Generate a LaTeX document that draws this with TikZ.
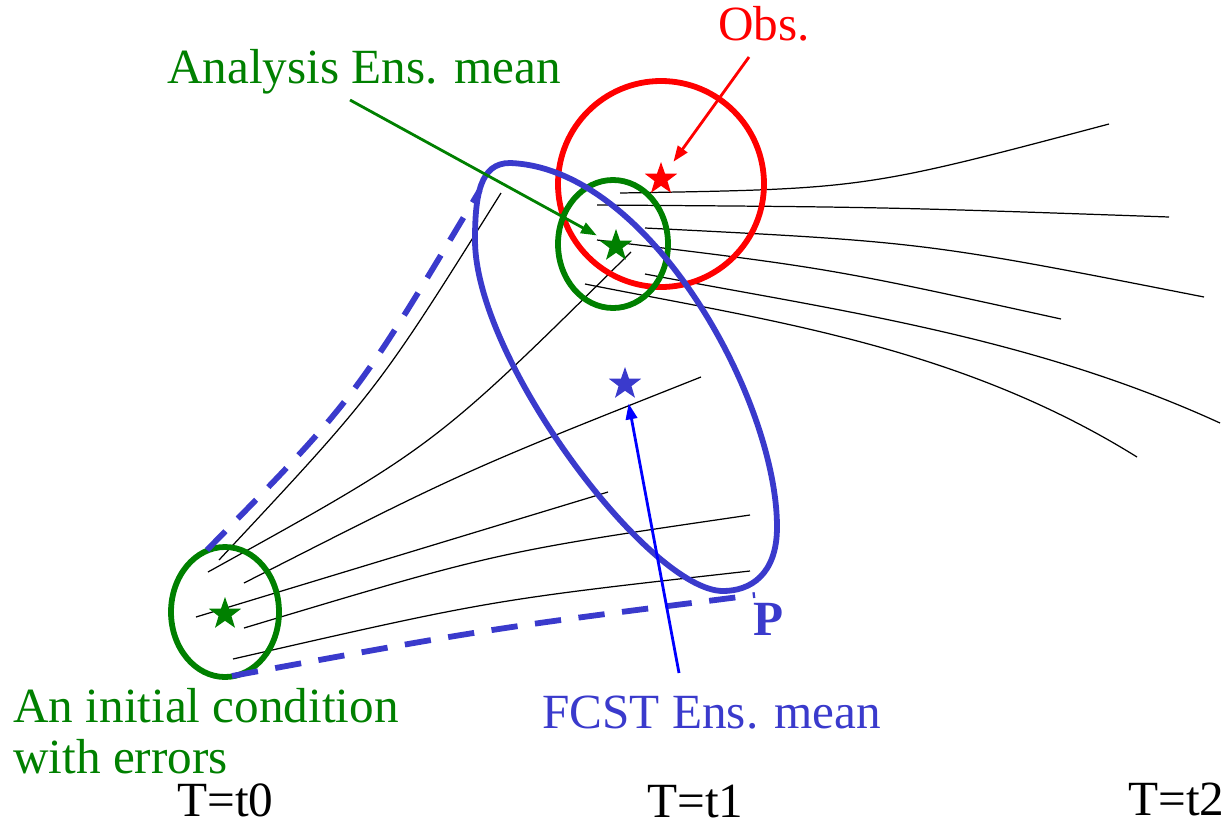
\documentclass[tikz,border=0pt]{standalone}
\usepackage{fontspec}
\setmainfont{Liberation Serif}
\usetikzlibrary{shapes.geometric,arrows.meta}
\definecolor{dgreen}{RGB}{0,128,0}
\definecolor{sblue}{RGB}{58,58,204}
\tikzset{
	traj/.style={line width=0.7pt, black},
	ring/.style={line width=3.3pt},
	spread/.style={sblue, line width=3.3pt, dash pattern=on 15pt off 10pt},
	mstar/.style={star, star points=5, star point ratio=2.5, fill, draw=none, minimum size=0.68cm, inner sep=0pt},
	lab/.style={font=\fontsize{28}{28.5}\selectfont, anchor=base west, inner sep=0pt},
	pointer/.style={->, line width=1.6pt}
}

\begin{document}
\begin{tikzpicture}[x=0.02cm, y=-0.02cm, >={Triangle[length=9pt,width=6.5pt]}]
			\useasboundingbox (0,0) rectangle (1230,829);
			% trajectories from the initial condition
			\draw[traj] (219,560) .. controls (377,391) .. (501,193);
			\draw[traj] (208,572) .. controls (434,447) .. (631,252);
			\draw[traj] (244,583) .. controls (464,471) .. (701,377);
			\draw[traj] (196,617) -- (608,492);
			\draw[traj] (244,628) .. controls (497,552) .. (750,515);
			\draw[traj] (233,659) .. controls (491,600) .. (750,571);
			% trajectories from the analysis
			\draw[traj] (620,193) .. controls (864,189) .. (1109,124);
			\draw[traj] (597,205) .. controls (883,207) .. (1169,217);
			\draw[traj] (645,228) .. controls (924,242) .. (1204,297);
			\draw[traj] (597,240) .. controls (829,268) .. (1061,319);
			\draw[traj] (645,274) .. controls (835,310) and (1030,336) .. (1220,423);
			\draw[traj] (585,284) .. controls (765,320) and (957,345) .. (1137,457);
			% error regions
			\draw[ring, red] (661,184) circle[radius=103];
			\draw[ring, dgreen] (225,612) ellipse[x radius=54, y radius=65];
			\draw[ring, dgreen] (613,244) ellipse[x radius=55, y radius=64];
			\draw[ring, sblue] (510,163) .. controls (650,168) and (777,400) .. (777,527)
				.. controls (777,575) and (750,591) .. (723,591)
				.. controls (650,591) and (475,360) .. (475,240)
				.. controls (475,195) and (480,163) .. cycle;
			\draw[spread] (207,550) .. controls (355,399) .. (480,190);
			\draw[spread] (232,676) .. controls (493,628) .. (755,595);
			% means
			\node[mstar, red] (sobs) at (661,179) {};
			\node[mstar, dgreen] (sana) at (616,246) {};
			\node[mstar, dgreen] (sic) at (225,614) {};
			\node[mstar, sblue] (sfcst) at (625,384) {};
			% labels
			\node[lab, red] (obs) at (718,40) {Obs.};
			\node[lab, dgreen] (ana) at (167,83) {Analysis Ens. mean};
			\node[lab, sblue] (fcst) at (542,728) {FCST Ens. mean};
			\node[lab, dgreen, align=left] (ic) at (13,773) {An initial condition\\with errors};
			\node[lab, sblue, font=\fontsize{28}{28.5}\selectfont\bfseries] (p) at (753,635) {P};
			\node[lab] (t0) at (177,816) {T=t0};
			\node[lab] (t1) at (647,817) {T=t1};
			\node[lab] (t2) at (1128,815) {T=t2};
			\coordinate (obsfoot) at (749,57);
			\coordinate (anafoot) at (350,100);
			\coordinate (fcstfoot) at (679,673);
			\draw[pointer, red, shorten >=8pt] (obsfoot) -- (sobs);
			\draw[pointer, dgreen, shorten >=5.7pt] (anafoot) -- (sana);
			\draw[pointer, blue, shorten >=6.5pt] (fcstfoot) -- (sfcst);
		\end{tikzpicture}
\end{document}
